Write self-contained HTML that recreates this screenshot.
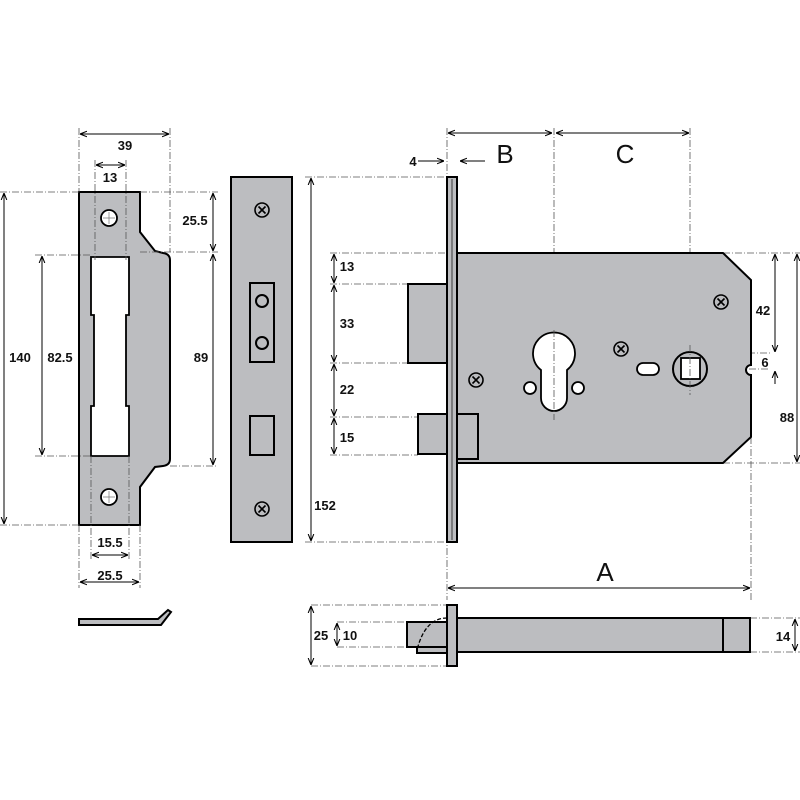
<!DOCTYPE html>
<html><head><meta charset="utf-8"><style>body{margin:0;background:#fff}svg{display:block}</style></head><body>
<svg width="800" height="800" viewBox="0 0 800 800" xmlns="http://www.w3.org/2000/svg">
<defs>
<marker id="a" viewBox="0 0 10 10" refX="10" refY="5" markerWidth="7" markerHeight="7" orient="auto-start-reverse"><path d="M0,1 L10,5 L0,9" fill="none" stroke="#000" stroke-width="1.5"/></marker>
<g id="scr"><circle r="7" fill="#bcbdc0" stroke="#000" stroke-width="1.6"/><path d="M-3.5,-3.5L3.5,3.5M3.5,-3.5L-3.5,3.5" stroke="#000" stroke-width="1.6"/></g>
</defs>
<style>
.g{fill:#bcbdc0;stroke:#000;stroke-width:2}
.w{fill:#fff;stroke:#000;stroke-width:1.8}
.d{stroke:#555;stroke-width:0.8;stroke-dasharray:7,2,1,2;fill:none}
.m{stroke:#000;stroke-width:1;fill:none;marker-start:url(#a);marker-end:url(#a)}
text{font-family:"Liberation Sans",sans-serif;font-weight:bold;font-size:13px;fill:#111;text-anchor:middle}
.big{font-size:26px;font-weight:normal}
</style>
<!-- strike plate -->
<path class="g" d="M79,192 L140,192 L140,232 L155,251 L163,253 Q170,254 170,260 L170,459 Q170,465 163,466 L155,467 L140,487 L140,525 L79,525 Z"/>
<path class="w" d="M91,257 L129,257 L129,315 L126,315 L126,406 L129,406 L129,456 L91,456 L91,406 L94,406 L94,315 L91,315 Z"/>
<circle class="w" cx="109" cy="218" r="8"/><circle class="w" cx="109" cy="497" r="8"/>
<path d="M103,218H115M109,212V224M103,497H115M109,491V503" stroke="#777" stroke-width="0.7"/>
<path class="d" d="M79,128V192M170,128V252M95,160V260M126,160V260M0,192H79M140,192H218M140,252H218M35,255H91M35,456H91M170,466H218M0,525H79M91,456V560M129,456V560M79,525V588M140,525V588"/>
<line class="m" x1="80" y1="134" x2="169" y2="134"/><text x="125" y="150">39</text>
<line class="m" x1="96" y1="165" x2="125" y2="165"/><text x="110" y="182">13</text>
<line class="m" x1="213" y1="193" x2="213" y2="251"/><text x="195" y="225">25.5</text>
<line class="m" x1="213" y1="254" x2="213" y2="465"/><text x="201" y="362">89</text>
<line class="m" x1="4" y1="193" x2="4" y2="524"/><text x="20" y="362">140</text>
<line class="m" x1="42" y1="256" x2="42" y2="455"/><text x="60" y="362">82.5</text>
<line class="m" x1="92" y1="555" x2="128" y2="555"/><text x="110" y="547">15.5</text>
<line class="m" x1="80" y1="582" x2="139" y2="582"/><text x="110" y="580">25.5</text>
<path class="g" stroke-width="1.5" d="M79,619 L158,619 L168,610 L171,612 L161,625 L79,625 Z"/>
<!-- face plate -->
<rect class="g" x="231" y="177" width="61" height="365"/>
<use href="#scr" x="262" y="210"/><use href="#scr" x="262" y="509"/>
<rect class="g" x="250" y="283" width="24" height="79"/>
<circle class="g" cx="262" cy="301" r="6"/><circle class="g" cx="262" cy="343" r="6"/>
<rect class="g" x="250" y="416" width="24" height="39"/>
<!-- lock body -->
<path class="d" d="M447,128V600M554,128V435M690,128V405M305,177H447M305,542H447M330,253H457M330,284H408M330,363H408M330,417H418M330,455H418M723,253H800M723,463H800M751,437V600M520,353H770M665,369H770"/>
<path class="g" d="M457,253 L723,253 L751,280 L751,365 A4,4 0 0 0 751,375 L751,437 L723,463 L457,463 Z"/>
<rect class="g" x="408" y="284" width="39" height="79"/>
<rect class="g" x="418" y="414" width="29" height="40"/>
<rect class="g" x="457" y="414" width="21" height="45"/>
<rect class="g" x="447" y="177" width="10" height="365"/>
<line x1="452" y1="179" x2="452" y2="540" stroke="#000" stroke-width="0.7"/>
<path class="w" d="M541,370 A21,21 0 1 1 567,370 L567,398 A13,13 0 0 1 541,398 Z"/>
<circle class="w" cx="530" cy="388" r="6"/><circle class="w" cx="578" cy="388" r="6"/>
<use href="#scr" x="476" y="380"/><use href="#scr" x="621" y="349"/><use href="#scr" x="721" y="302"/>
<rect class="w" x="637" y="363" width="22" height="12" rx="6"/>
<circle class="g" cx="690" cy="369" r="17"/>
<rect class="w" x="681" y="358" width="19" height="21" stroke-width="2"/>
<path class="d" d="M554,330V420M690,345V395"/>
<line class="m" x1="448" y1="133" x2="552" y2="133"/>
<line class="m" x1="556" y1="133" x2="689" y2="133"/>
<text class="big" x="505" y="163">B</text><text class="big" x="625" y="163">C</text>
<text x="413" y="166">4</text>
<path d="M418,161H444" stroke="#000" marker-end="url(#a)"/>
<path d="M485,161H460" stroke="#000" marker-end="url(#a)"/>
<line class="m" x1="311" y1="178" x2="311" y2="541"/><text x="325" y="510">152</text>
<line class="m" x1="334" y1="254" x2="334" y2="283"/><text x="347" y="271">13</text>
<line class="m" x1="334" y1="285" x2="334" y2="362"/><text x="347" y="328">33</text>
<line class="m" x1="334" y1="364" x2="334" y2="416"/><text x="347" y="394">22</text>
<line class="m" x1="334" y1="418" x2="334" y2="454"/><text x="347" y="442">15</text>
<line class="m" x1="775" y1="254" x2="775" y2="352"/><text x="763" y="315">42</text>
<path d="M775,384V371" stroke="#000" marker-end="url(#a)"/><text x="765" y="367">6</text>
<line class="m" x1="797" y1="254" x2="797" y2="462"/><text x="787" y="422">88</text>
<line class="m" x1="448" y1="588" x2="750" y2="588"/><text class="big" x="605" y="581">A</text>
<!-- bottom view -->
<path class="d" d="M311,605H447M311,666H447M337,622H408M337,647H408M750,618H800M750,652H800"/>
<rect class="g" x="457" y="618" width="293" height="34"/>
<line x1="723" y1="618" x2="723" y2="652" stroke="#000" stroke-width="2"/>
<rect class="g" x="407" y="622" width="40" height="25"/>
<rect class="g" x="417" y="647" width="30" height="6"/>
<path d="M447,618 Q425,618 417,650" stroke="#000" stroke-width="1.3" fill="none" stroke-dasharray="4,2"/>
<rect class="g" x="447" y="605" width="10" height="61"/>
<line class="m" x1="311" y1="606" x2="311" y2="665"/><text x="321" y="640">25</text>
<line class="m" x1="337" y1="623" x2="337" y2="646"/><text x="350" y="640">10</text>
<line class="m" x1="795" y1="619" x2="795" y2="651"/><text x="783" y="641">14</text>
</svg>
</body></html>
